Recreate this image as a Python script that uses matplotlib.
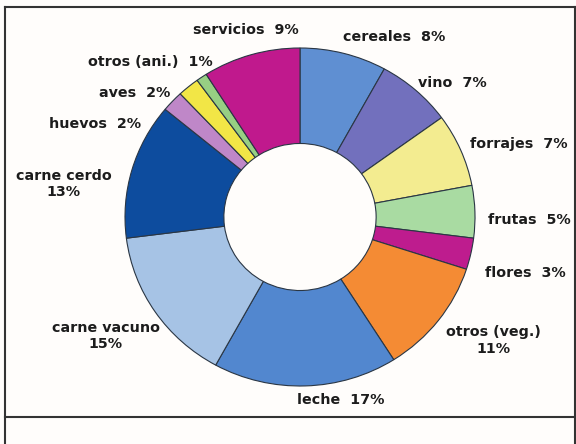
import matplotlib
matplotlib.use("Agg")
import matplotlib.pyplot as plt
from matplotlib.lines import Line2D

# Datos (porcentaje de la producción)
categorias = ["cereales", "vino", "forrajes", "frutas", "flores", "otros (veg.)",
              "leche", "carne vacuno", "carne cerdo", "huevos", "aves",
              "otros (ani.)", "servicios"]
porcentajes = [8, 7, 7, 5, 3, 11, 17, 15, 13, 2, 2, 1, 9]

colores = ["#5f8fd2", "#7270bd", "#f3ec90", "#a9dba2", "#be1c8e", "#f48b34",
           "#5287cf", "#a6c3e5", "#0d4c9e", "#bf87c8", "#f2e646", "#97cf83",
           "#c0198d"]

# Posición de cada etiqueta (en unidades del radio) y si va en dos líneas
pos_etiquetas = [(0.537, 1.065), (0.869, 0.793), (1.251, 0.432), (1.309, -0.018),
                 (1.286, -0.331), (1.103, -0.730), (0.234, -1.083), (-1.109, -0.704),
                 (-1.349, 0.195), (-1.171, 0.550), (-0.943, 0.734), (-0.857, 0.917),
                 (-0.309, 1.107)]
dos_lineas = {"otros (veg.)", "carne vacuno", "carne cerdo"}

fondo = "#fffdfb"
fig = plt.figure(figsize=(5.76, 4.44), dpi=100, facecolor=fondo)

# ejes: el anillo ocupa x 125..475 px, y 48..386 px
ax = fig.add_axes([125 / 576, (444 - 386) / 444, 350 / 576, 338 / 444])
ax.set_facecolor(fondo)

ax.pie(porcentajes, colors=colores, startangle=90, counterclock=False,
       radius=1.0,
       wedgeprops=dict(width=0.565, edgecolor="#2a3644", linewidth=0.8))
ax.set_aspect("auto")
ax.set_xlim(-1, 1)
ax.set_ylim(-1, 1)
ax.axis("off")

for nombre, valor, (x, y) in zip(categorias, porcentajes, pos_etiquetas):
    if nombre in dos_lineas:
        texto = f"{nombre}\n{valor}%"
    else:
        texto = f"{nombre}  {valor}%"
    ax.text(x, y, texto, ha="center", va="center", fontsize=10.3,
            fontweight="bold", color="#1c1c1c", linespacing=1.25,
            family="DejaVu Sans")

# marcos
def linea(x0, y0, x1, y1):
    fig.add_artist(Line2D([x0 / 576, x1 / 576], [1 - y0 / 444, 1 - y1 / 444],
                          color="#333333", linewidth=1.5))

linea(5, 7, 575, 7)
linea(5, 417, 575, 417)
linea(5, 7, 5, 444)
linea(575, 7, 575, 444)

fig.savefig("out.png", dpi=100, facecolor=fondo)
